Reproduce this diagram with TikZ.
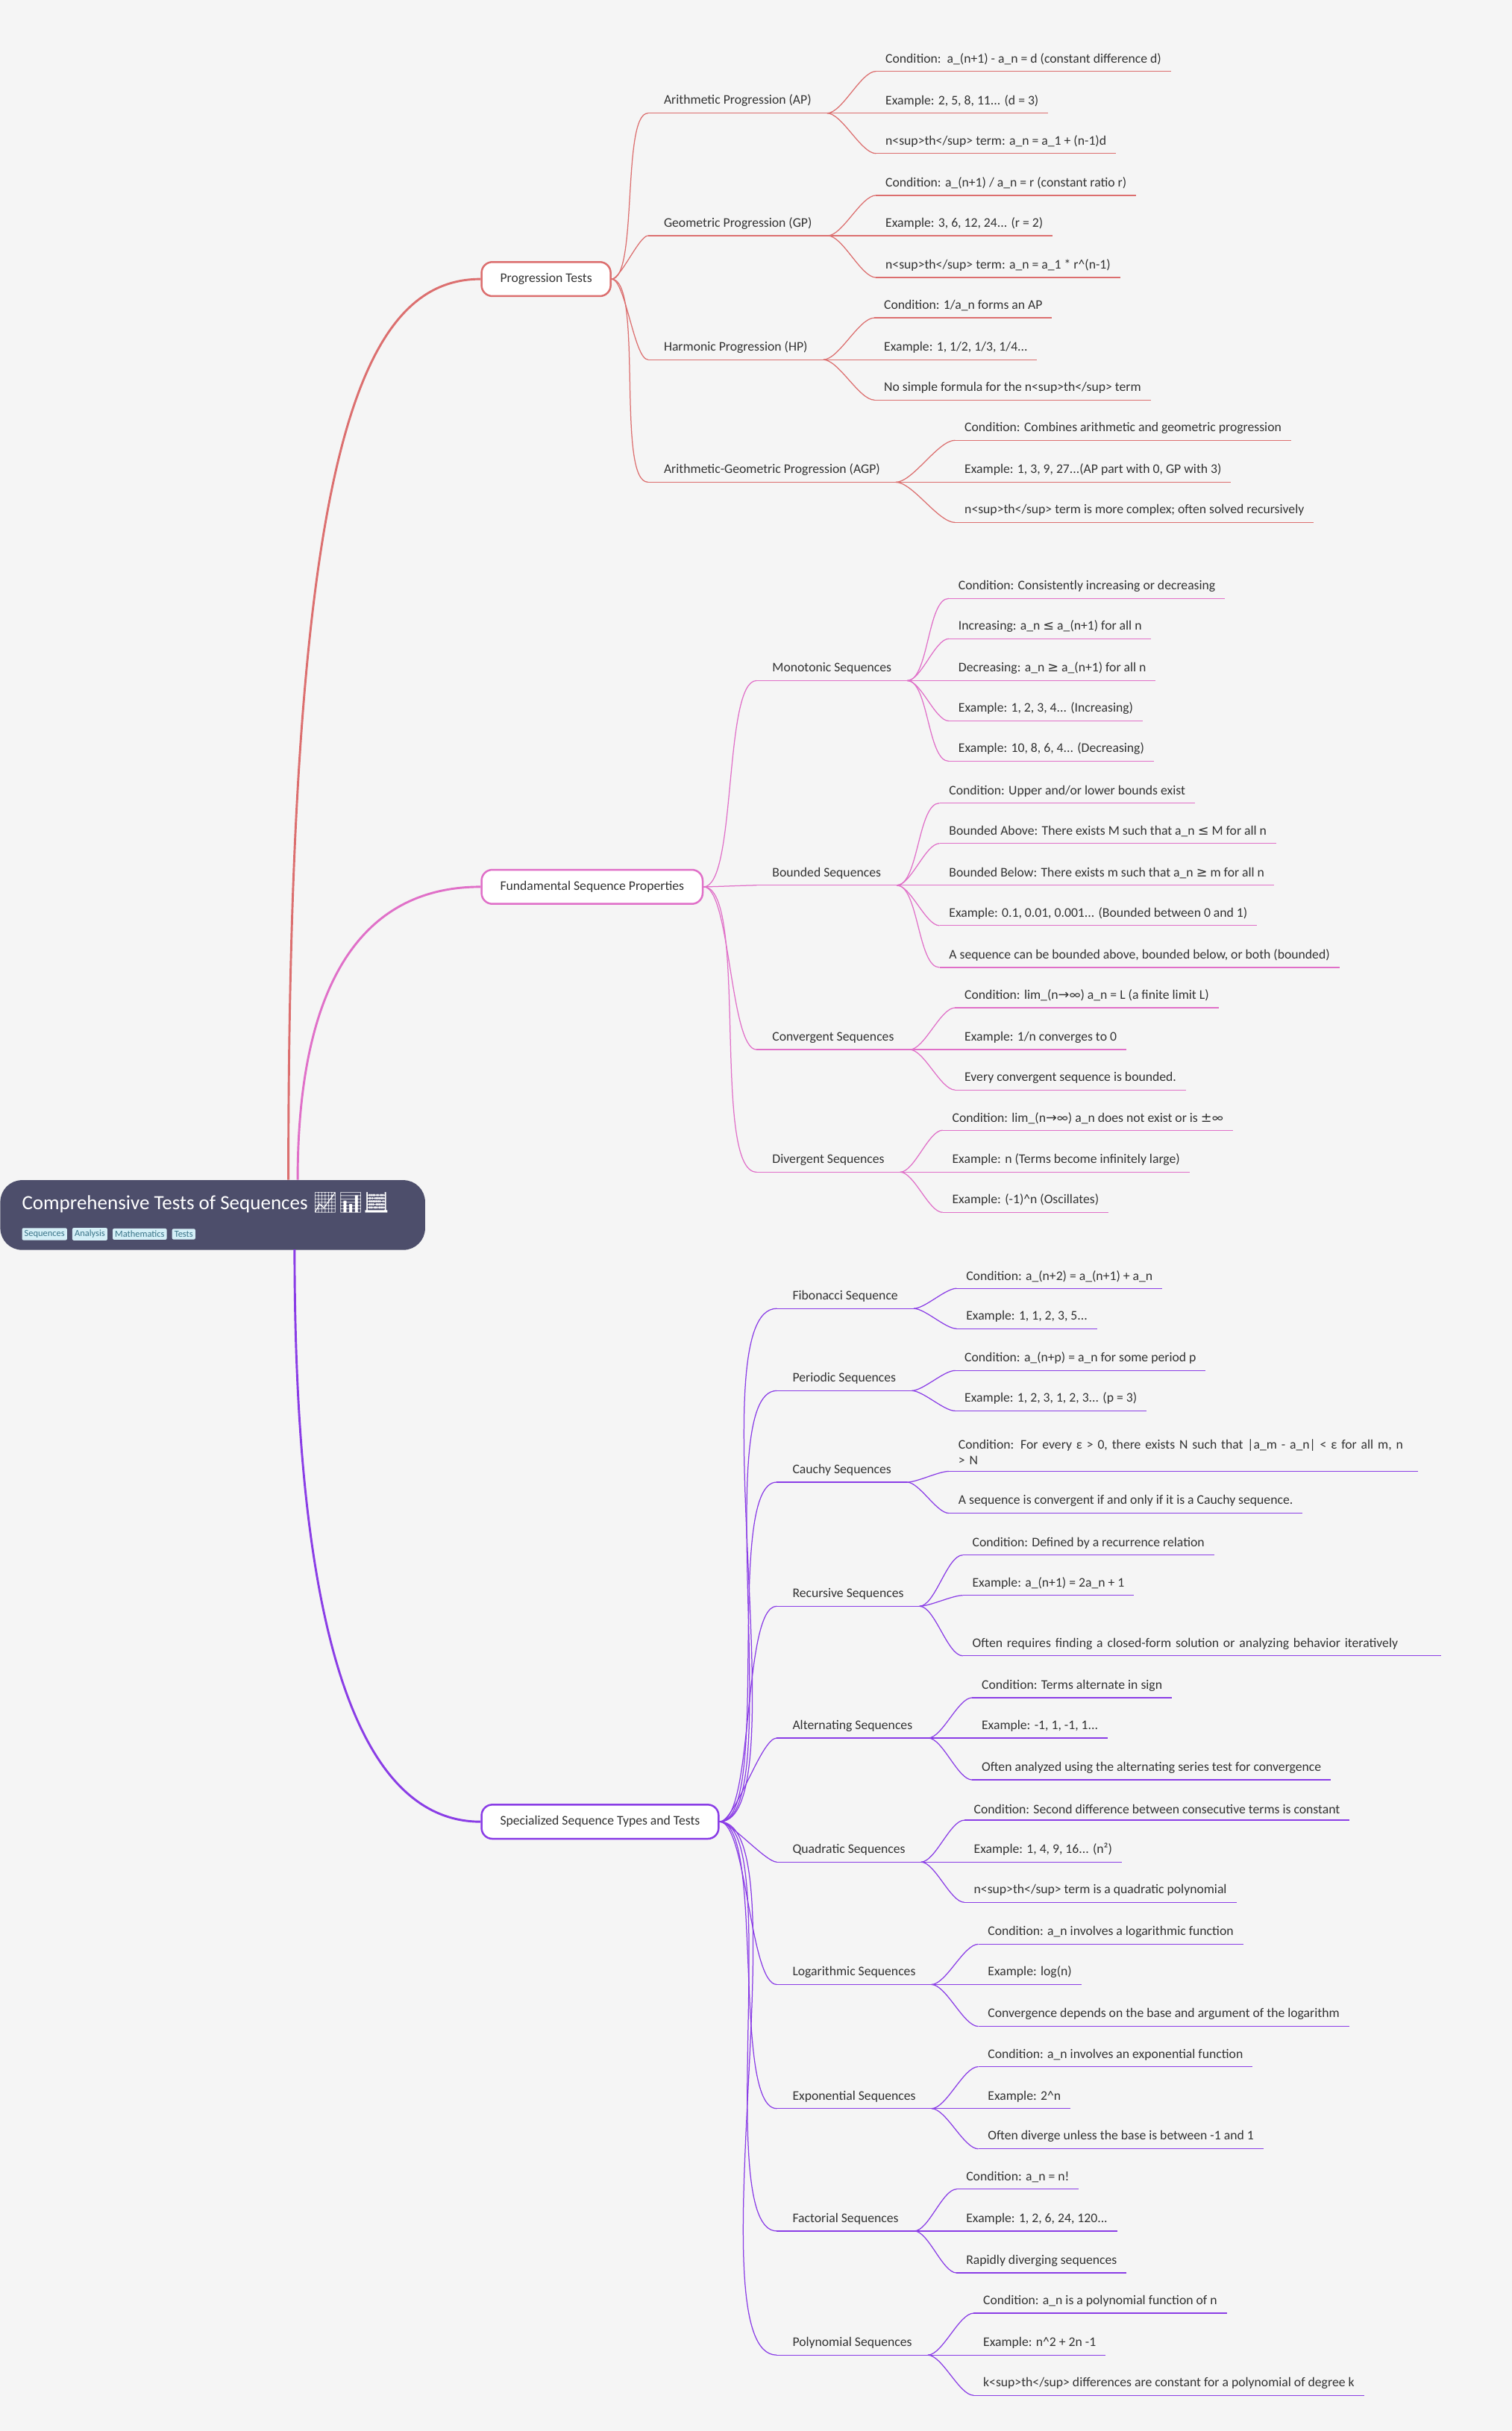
\documentclass[tikz,border=0pt]{standalone}
\usepackage{fontspec}
\usetikzlibrary{positioning}
\setmainfont{Carlito}
\newfontfamily\symf{DejaVu Sans}
\newfontfamily\emojif{Noto Emoji}
\definecolor{bgc}{HTML}{F5F5F5}
\definecolor{redc}{HTML}{DC6F6F}
\definecolor{pinkc}{HTML}{E070C8}
\definecolor{purc}{HTML}{8A3DE6}
\definecolor{rootc}{HTML}{4D4E6B}
\definecolor{tagc}{HTML}{D4EFF7}
\definecolor{tagt}{HTML}{3A7488}
\definecolor{txt}{HTML}{333333}
\tikzset{
  topic/.style={draw, very thick, fill=white, rounded corners=7pt, font=\fontsize{8.5}{10}\selectfont,
    text=txt, minimum height=22pt, inner xsep=12pt},
  sub/.style={anchor=south west, inner xsep=10pt, inner ysep=4pt, font=\fontsize{8.5}{10}\selectfont, text=txt},
  leaf/.style={anchor=south west, inner xsep=6pt, inner ysep=4pt, font=\fontsize{8.5}{10}\selectfont, text=txt},
  wide/.style={leaf, text width=#1, align=left},
  tag/.style={fill=tagc, text=tagt, rounded corners=1pt, inner sep=1.5pt, font=\fontsize{6}{7}\selectfont},
  branch/.style={line width=0.6pt},
  trunk/.style={line width=1.4pt}
}
\newcommand{\ul}[2]{\draw[branch,#1] (#2.south west) -- (#2.south east);}
\begin{document}
\begin{tikzpicture}[x=1pt,y=-1pt]
\fill[bgc] (0,0) rectangle (975,1568);
\useasboundingbox (0,0) rectangle (975,1568);

% root
\node[fill=rootc, rounded corners=14pt, minimum width=274pt, minimum height=45pt, anchor=north west] (root) at (0,761) {};
\node[anchor=base west, text=white, font=\fontsize{13}{15}\selectfont, inner sep=0] (title) at (14,780)
  {Comprehensive Tests of Sequences {\emojif 📈📊🧮}};
\node[tag, anchor=west] (t1) at (14,796) {Sequences};
\node[tag, right=3pt of t1] (t2) {Analysis};
\node[tag, right=3pt of t2] (t3) {Mathematics};
\node[tag, right=3pt of t3] (t4) {Tests};

% level 1
\node[topic, draw=redc, anchor=west] (prog) at (310,180) {Progression Tests};
\node[topic, draw=pinkc, anchor=west] (fund) at (310,572) {Fundamental Sequence Properties};
\node[topic, draw=purc, anchor=west] (spec) at (310,1175) {Specialized Sequence Types and Tests};
\draw[trunk, redc] (186,761) .. controls (186,300) and (230,180) .. (prog.west);
\draw[trunk, pinkc] (192,761) .. controls (192,640) and (230,572) .. (fund.west);
\draw[trunk, purc] (190,806) .. controls (190,1050) and (230,1175) .. (spec.west);

% progression tests
\begin{scope}[redc]
\node[sub] (ap) at (418,73) {Arithmetic Progression (AP)};
\node[leaf] (ap1) at (565,46) {Condition:\ \ a\_(n+1) - a\_n = d (constant difference d)};
\node[leaf] (ap2) at (565,73) {Example: 2, 5, 8, 11... (d = 3)};
\node[leaf] (ap3) at (565,99) {n<sup>th</sup> term: a\_n = a\_1 + (n-1)d};
\node[sub] (gp) at (418,152) {Geometric Progression (GP)};
\node[leaf] (gp1) at (565,126) {Condition: a\_(n+1) / a\_n = r (constant ratio r)};
\node[leaf] (gp2) at (565,152) {Example: 3, 6, 12, 24... (r = 2)};
\node[leaf] (gp3) at (565,179) {n<sup>th</sup> term: a\_n = a\_1 * r\textasciicircum(n-1)};
\node[sub] (hp) at (418,232) {Harmonic Progression (HP)};
\node[leaf] (hp1) at (564,205) {Condition: 1/a\_n forms an AP};
\node[leaf] (hp2) at (564,232) {Example: 1, 1/2, 1/3, 1/4...};
\node[leaf] (hp3) at (564,258) {No simple formula for the n<sup>th</sup> term};
\node[sub] (agp) at (418,311) {Arithmetic-Geometric Progression (AGP)};
\node[leaf] (agp1) at (616,284) {Condition: Combines arithmetic and geometric progression};
\node[leaf] (agp2) at (616,311) {Example: 1, 3, 9, 27...(AP part with 0, GP with 3)};
\node[leaf] (agp3) at (616,337) {n<sup>th</sup> term is more complex; often solved recursively};
\end{scope}
\foreach \p/\kids in {ap/{ap1,ap2,ap3}, gp/{gp1,gp2,gp3}, hp/{hp1,hp2,hp3}, agp/{agp1,agp2,agp3}} {
  \ul{redc}{\p}
  \draw[branch, redc] (prog.east) to[out=0, in=180, looseness=0.4] (\p.south west);
  \foreach \c in \kids {
    \ul{redc}{\c}
    \draw[branch, redc] (\p.south east) to[out=0, in=180, looseness=0.6] (\c.south west);
  }
}

% fundamental properties
\begin{scope}[pinkc]
\node[sub] (mono) at (488,439) {Monotonic Sequences};
\node[leaf] (mono1) at (612,386) {Condition: Consistently increasing or decreasing};
\node[leaf] (mono2) at (612,412) {Increasing: a\_n {\symf ≤} a\_(n+1) for all n};
\node[leaf] (mono3) at (612,439) {Decreasing: a\_n {\symf ≥} a\_(n+1) for all n};
\node[leaf] (mono4) at (612,465) {Example: 1, 2, 3, 4... (Increasing)};
\node[leaf] (mono5) at (612,491) {Example: 10, 8, 6, 4... (Decreasing)};
\node[sub] (bnd) at (488,571) {Bounded Sequences};
\node[leaf] (bnd1) at (606,518) {Condition: Upper and/or lower bounds exist};
\node[leaf] (bnd2) at (606,544) {Bounded Above: There exists M such that a\_n {\symf ≤} M for all n};
\node[leaf] (bnd3) at (606,571) {Bounded Below: There exists m such that a\_n {\symf ≥} m for all n};
\node[leaf] (bnd4) at (606,597) {Example: 0.1, 0.01, 0.001... (Bounded between 0 and 1)};
\node[leaf] (bnd5) at (606,624) {A sequence can be bounded above, bounded below, or both (bounded)};
\node[sub] (conv) at (488,677) {Convergent Sequences};
\node[leaf] (conv1) at (616,650) {Condition: lim\_(n{\symf →}∞) a\_n = L (a finite limit L)};
\node[leaf] (conv2) at (616,677) {Example: 1/n converges to 0};
\node[leaf] (conv3) at (616,703) {Every convergent sequence is bounded.};
\node[sub] (div) at (488,756) {Divergent Sequences};
\node[leaf] (div1) at (608,729) {Condition: lim\_(n{\symf →}∞) a\_n does not exist or is {\symf ±}∞};
\node[leaf] (div2) at (608,756) {Example: n (Terms become infinitely large)};
\node[leaf] (div3) at (608,782) {Example: (-1)\textasciicircum n (Oscillates)};
\end{scope}
\foreach \p/\kids in {mono/{mono1,mono2,mono3,mono4,mono5}, bnd/{bnd1,bnd2,bnd3,bnd4,bnd5},
    conv/{conv1,conv2,conv3}, div/{div1,div2,div3}} {
  \ul{pinkc}{\p}
  \draw[branch, pinkc] (fund.east) to[out=0, in=180, looseness=0.4] (\p.south west);
  \foreach \c in \kids {
    \ul{pinkc}{\c}
    \draw[branch, pinkc] (\p.south east) to[out=0, in=180, looseness=0.6] (\c.south west);
  }
}

% specialized types
\begin{scope}[purc]
\node[sub] (fib) at (501,844) {Fibonacci Sequence};
\node[leaf] (fib1) at (617,831) {Condition: a\_(n+2) = a\_(n+1) + a\_n};
\node[leaf] (fib2) at (617,857) {Example: 1, 1, 2, 3, 5...};
\node[sub] (per) at (501,897) {Periodic Sequences};
\node[leaf] (per1) at (616,884) {Condition: a\_(n+p) = a\_n for some period p};
\node[leaf] (per2) at (616,910) {Example: 1, 2, 3, 1, 2, 3... (p = 3)};
\node[sub] (cau) at (501,956) {Cauchy Sequences};
\node[wide=290pt] (cau1) at (612,949) {Condition: For every ε > 0, there exists N such that |a\_m - a\_n| < ε for all m, n > N};
\node[leaf] (cau2) at (612,976) {A sequence is convergent if and only if it is a Cauchy sequence.};
\node[sub] (rec) at (501,1036) {Recursive Sequences};
\node[leaf] (rec1) at (621,1003) {Condition: Defined by a recurrence relation};
\node[leaf] (rec2) at (621,1029) {Example: a\_(n+1) = 2a\_n + 1};
\node[wide=296pt] (rec3) at (621,1068) {Often requires finding a closed-form solution or analyzing behavior iteratively};
\node[sub] (alt) at (501,1121) {Alternating Sequences};
\node[leaf] (alt1) at (627,1095) {Condition: Terms alternate in sign};
\node[leaf] (alt2) at (627,1121) {Example: -1, 1, -1, 1...};
\node[leaf] (alt3) at (627,1148) {Often analyzed using the alternating series test for convergence};
\node[sub] (quad) at (501,1201) {Quadratic Sequences};
\node[leaf] (quad1) at (622,1174) {Condition: Second difference between consecutive terms is constant};
\node[leaf] (quad2) at (622,1201) {Example: 1, 4, 9, 16... (n²)};
\node[leaf] (quad3) at (622,1227) {n<sup>th</sup> term is a quadratic polynomial};
\node[sub] (log) at (501,1280) {Logarithmic Sequences};
\node[leaf] (log1) at (631,1254) {Condition: a\_n involves a logarithmic function};
\node[leaf] (log2) at (631,1280) {Example: log(n)};
\node[leaf] (log3) at (631,1307) {Convergence depends on the base and argument of the logarithm};
\node[sub] (expo) at (501,1360) {Exponential Sequences};
\node[leaf] (expo1) at (631,1333) {Condition: a\_n involves an exponential function};
\node[leaf] (expo2) at (631,1360) {Example: 2\textasciicircum n};
\node[leaf] (expo3) at (631,1386) {Often diverge unless the base is between -1 and 1};
\node[sub] (fac) at (501,1439) {Factorial Sequences};
\node[leaf] (fac1) at (617,1412) {Condition: a\_n = n!};
\node[leaf] (fac2) at (617,1439) {Example: 1, 2, 6, 24, 120...};
\node[leaf] (fac3) at (617,1466) {Rapidly diverging sequences};
\node[sub] (poly) at (501,1519) {Polynomial Sequences};
\node[leaf] (poly1) at (628,1492) {Condition: a\_n is a polynomial function of n};
\node[leaf] (poly2) at (628,1519) {Example: n\textasciicircum 2 + 2n -1};
\node[leaf] (poly3) at (628,1545) {k<sup>th</sup> differences are constant for a polynomial of degree k};
\end{scope}
\foreach \p/\kids in {fib/{fib1,fib2}, per/{per1,per2}, cau/{cau1,cau2}, rec/{rec1,rec2,rec3},
    alt/{alt1,alt2,alt3}, quad/{quad1,quad2,quad3}, log/{log1,log2,log3}, expo/{expo1,expo2,expo3},
    fac/{fac1,fac2,fac3}, poly/{poly1,poly2,poly3}} {
  \ul{purc}{\p}
  \draw[branch, purc] (spec.east) to[out=0, in=180, looseness=0.4] (\p.south west);
  \foreach \c in \kids {
    \ul{purc}{\c}
    \draw[branch, purc] (\p.south east) to[out=0, in=180, looseness=0.6] (\c.south west);
  }
}
\end{tikzpicture}
\end{document}
